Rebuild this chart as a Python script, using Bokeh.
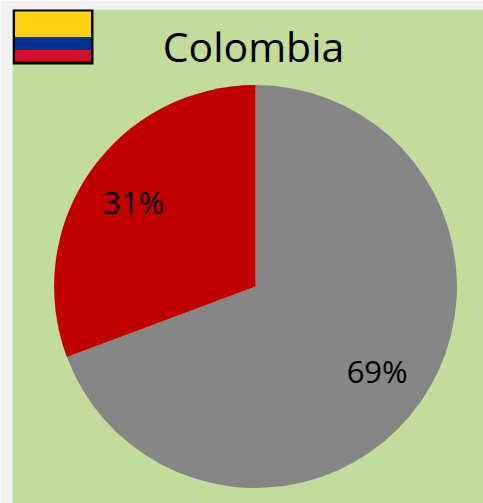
import math
from bokeh.plotting import figure
from bokeh.models import BoxAnnotation, Label, Range1d
from bokeh.core.properties import value
from bokeh.embed import file_html
from bokeh.resources import INLINE

country = "Colombia"
shares = [69.3, 30.7]
slice_labels = ["69%", "31%"]
slice_colors = ["#868686", "#c00000"]
flag_stripes = ["#ffd116", "#00318f", "#ce1126"]

FONT = "Open Sans"
OUTER_W, OUTER_H = 483, 503
LEFT, TOP = 13, 9          # frame offset inside the canvas
CX, CY, R = 255.5, 286, 201  # pie centre and radius, canvas pixels

p = figure(width=OUTER_W, height=OUTER_H, output_backend="svg", toolbar_location=None,
           min_border_left=LEFT - 1, min_border_top=TOP, min_border_right=0, min_border_bottom=0,
           x_axis_location=None, y_axis_location=None,
           x_range=Range1d((LEFT - CX) / R, (OUTER_W - CX) / R),
           y_range=Range1d((CY - OUTER_H) / R, (CY - TOP) / R))
p.grid.visible = False
p.outline_line_color = None
p.background_fill_color = "#c3db9b"
p.border_fill_color = "#f2f2f2"

total = sum(shares)
start = math.pi / 2
starts, ends, lx, ly = [], [], [], []
for s in shares:
    end = start - 2 * math.pi * s / total
    starts.append(start)
    ends.append(end)
    mid = (start + end) / 2
    lx.append(0.735 * math.cos(mid))
    ly.append(0.74 * math.sin(mid))
    start = end

p.wedge(x=0, y=0, radius=1, start_angle=starts, end_angle=ends, direction="clock",
        fill_color=slice_colors, line_color=None)
p.text(x=lx, y=ly, text=slice_labels, text_font=value(FONT), text_font_size="31px",
       text_align="center", text_baseline="middle", text_color="#000000")

def screen_box(left, right, top, bottom, color):
    # offsets from the frame's left edge and the top of the page
    p.add_layout(BoxAnnotation(left=left - LEFT, right=right - LEFT,
                               top=OUTER_H - top + 1, bottom=OUTER_H - bottom + 1,
                               left_units="screen", right_units="screen",
                               top_units="screen", bottom_units="screen",
                               fill_color=color, fill_alpha=1, line_color=None))

# flag: black frame, then the stripes
screen_box(13, 94, 9, 65, "#000000")
bands = [(12, 37.5), (37.5, 50.5), (50.5, 62)]
for col, (t, b) in zip(flag_stripes, bands):
    screen_box(15.5, 91.5, t, b, col)

p.add_layout(Label(x=241, y=OUTER_H - 45, x_units="screen", y_units="screen", text=country,
                   text_font=FONT, text_font_size="41px", text_align="center",
                   text_baseline="middle", text_color="#000000"))

open("out.html", "w").write(file_html(p, INLINE))
